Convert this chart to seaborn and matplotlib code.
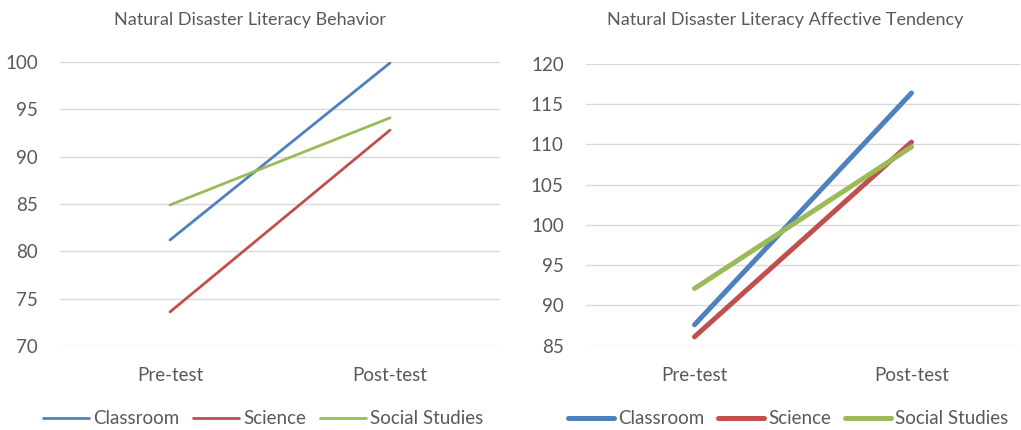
import pandas as pd
import matplotlib
matplotlib.use("Agg")
import matplotlib.pyplot as plt
import seaborn as sns

# ── Data ────────────────────────────────────────────────────
phases = ["Pre-test", "Post-test"]
groups = ["Classroom", "Science", "Social Studies"]

behavior_classroom = [81.2, 99.9]
behavior_science = [73.6, 92.8]
behavior_social = [84.9, 94.1]

affective_classroom = [87.6, 116.4]
affective_science = [86.1, 110.3]
affective_social = [92.1, 109.7]

behavior_ticks = [70, 75, 80, 85, 90, 95, 100]
affective_ticks = [85, 90, 95, 100, 105, 110, 115, 120]

COLORS = {"Classroom": "#4F81BD", "Science": "#C0504D", "Social Studies": "#9BBB59"}


def to_long(series):
    rows = []
    for g, vals in zip(groups, series):
        for p, v in zip(phases, vals):
            rows.append({"phase": p, "group": g, "score": v})
    return pd.DataFrame(rows)


behavior_df = to_long([behavior_classroom, behavior_science, behavior_social])
affective_df = to_long([affective_classroom, affective_science, affective_social])

# ── Style ────────────────────────────────────────────────────
sns.set_theme(style="white")
plt.rcParams["font.family"] = ["Lato", "DejaVu Sans"]

fig = plt.figure(figsize=(10.21, 4.30), dpi=100)
ax1 = fig.add_axes([60 / 1021, 84 / 430, 440 / 1021, 284 / 430])
ax2 = fig.add_axes([586 / 1021, 84.3 / 430, 434 / 1021, 281.7 / 430])

panels = [
    (ax1, behavior_df, behavior_ticks, "Natural Disaster Literacy Behavior", 2.0, 250, 263),
    (ax2, affective_df, affective_ticks, "Natural Disaster Literacy Affective Tendency", 3.6, 785, 788),
]

for ax, df, ticks, title, lw, title_x, leg_x in panels:
    sns.lineplot(data=df, x="phase", y="score", hue="group", palette=COLORS,
                 linewidth=lw, ax=ax, legend=True, sort=False)
    ax.set_xlim(-0.5, 1.5)
    ax.set_ylim(ticks[0], ticks[-1])
    ax.set_yticks(ticks)
    ax.grid(axis="y", color="#D9D9D9", linewidth=1.0)
    ax.set_axisbelow(True)
    for s in ax.spines.values():
        s.set_visible(False)
    ax.tick_params(axis="both", length=0, labelsize=13.5, labelcolor="#595959")
    ax.tick_params(axis="y", pad=16)
    ax.tick_params(axis="x", pad=15)
    ax.set_xlabel("")
    ax.set_ylabel("")
    fig.text(title_x / 1021, 1 - 20 / 430, title, ha="center", va="center",
             fontsize=13, color="#595959")
    handles, labels = ax.get_legend_handles_labels()
    ax.get_legend().remove()
    leg = ax.legend(handles, labels, ncol=3, frameon=False,
                    loc="center", bbox_to_anchor=(leg_x / 1021, 1 - 419 / 430),
                    bbox_transform=fig.transFigure,
                    fontsize=13.5, handlelength=2.45, handletextpad=0.2,
                    columnspacing=0.75)
    for t in leg.get_texts():
        t.set_color("#595959")

fig.savefig("out.png", dpi=100)
